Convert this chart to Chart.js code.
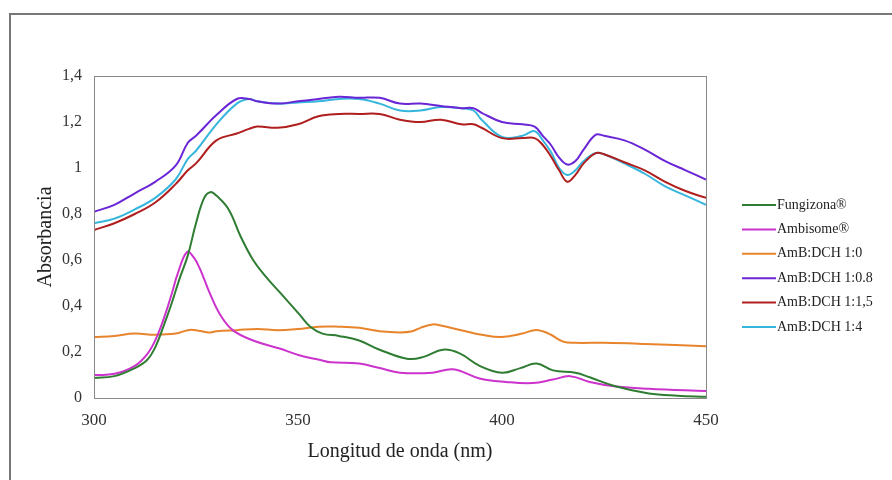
<!DOCTYPE html>
<html>
<head>
<meta charset="utf-8">
<script src="https://cdn.jsdelivr.net/npm/chart.js@4.4.1/dist/chart.umd.min.js"></script>
<style>
  html, body { margin: 0; padding: 0; background: #fff; }
  #wrap { position: relative; width: 892px; height: 480px; overflow: hidden; }
  #frame { position: absolute; left: 9px; top: 13px; width: 900px; height: 500px;
           border-left: 2px solid #777; border-top: 2px solid #777; }
  canvas { position: absolute; left: 0; top: 0; }
</style>
</head>
<body>
<div id="wrap">
  <div id="frame"></div>
  <canvas id="myChart" width="892" height="480"></canvas>
</div>
<script>
/****data*****/
const seriesNames = ['Fungizona®', 'Ambisome®', 'AmB:DCH 1:0', 'AmB:DCH 1:0.8', 'AmB:DCH 1:1,5', 'AmB:DCH 1:4'];

const fungizonaX = [300,305,310,313,315,317,319,321,323,325,327,328.5,330,333,336,339,342,345.5,350.5,353,356,360,365,370,377,381,385.5,389.5,394.5,400,404.5,408.5,412.5,418,421.5,428,436,443,450];
const fungizonaY = [0.087,0.095,0.13,0.165,0.22,0.31,0.41,0.52,0.62,0.76,0.87,0.895,0.88,0.82,0.70,0.60,0.53,0.46,0.36,0.31,0.28,0.27,0.25,0.21,0.17,0.18,0.21,0.195,0.14,0.11,0.13,0.15,0.12,0.11,0.09,0.05,0.02,0.01,0.005];

const ambisomeX = [300,305,310,313,315,317,319,320.5,322.8,324.5,326,328.4,331,334,339,345.5,350.5,355.5,358,365,370,375,383,388,394.5,401,407.5,412.5,416.7,421.5,428,436,450];
const ambisomeY = [0.10,0.105,0.14,0.19,0.25,0.34,0.45,0.54,0.635,0.61,0.56,0.455,0.36,0.295,0.25,0.215,0.185,0.165,0.155,0.15,0.13,0.11,0.11,0.125,0.085,0.07,0.065,0.08,0.095,0.07,0.05,0.04,0.03];

const dch10X = [300,305,310,315,320,323,325,328,330,335,340,345,350,355,360,365,370,375,378,380,383,385,390,395,400,405,408,410,412,415,418,425,435,450];
const dch10Y = [0.265,0.27,0.28,0.275,0.28,0.295,0.295,0.285,0.29,0.295,0.30,0.295,0.30,0.31,0.31,0.305,0.29,0.285,0.29,0.305,0.32,0.315,0.295,0.275,0.265,0.28,0.295,0.29,0.275,0.245,0.24,0.24,0.235,0.225];

const dchX = [300,305,310,315,320,323,325,330,335,338,340,345,350,355,360,365,370,375,380,385,390,393,395,400,405,408,410,412,414,416,418,420,423,425,430,435,440,445,450];
const dch108Y = [0.81,0.84,0.89,0.94,1.01,1.11,1.14,1.23,1.30,1.30,1.29,1.28,1.29,1.30,1.31,1.305,1.305,1.28,1.28,1.27,1.26,1.26,1.24,1.20,1.19,1.18,1.14,1.10,1.045,1.015,1.03,1.08,1.145,1.14,1.12,1.08,1.03,0.99,0.95];
const dch115Y = [0.73,0.76,0.80,0.85,0.93,0.99,1.02,1.12,1.15,1.17,1.18,1.175,1.19,1.225,1.235,1.235,1.235,1.21,1.20,1.21,1.19,1.19,1.175,1.13,1.13,1.13,1.10,1.05,0.99,0.94,0.97,1.02,1.065,1.06,1.025,0.99,0.94,0.90,0.87];
const dch14Y = [0.76,0.78,0.82,0.87,0.95,1.04,1.075,1.19,1.28,1.30,1.29,1.28,1.285,1.29,1.30,1.30,1.28,1.25,1.25,1.265,1.26,1.25,1.21,1.135,1.14,1.16,1.12,1.07,1.00,0.97,0.99,1.03,1.065,1.06,1.02,0.975,0.92,0.88,0.84];

const xTicks = [300, 350, 400, 450];
const yTicks = [0, 0.2, 0.4, 0.6, 0.8, 1, 1.2, 1.4];
/*****************/

const colors = ['#2e7d32', '#cc33cc', '#e8842c', '#6a26d6', '#b01e1e', '#36b6dc'];
const pairs = [
  [fungizonaX, fungizonaY],
  [ambisomeX, ambisomeY],
  [dch10X, dch10Y],
  [dchX, dch108Y],
  [dchX, dch115Y],
  [dchX, dch14Y]
];

const serif = "'Liberation Serif', 'DejaVu Serif', serif";

const data = {
  datasets: pairs.map((p, i) => ({
    label: seriesNames[i],
    data: p[0].map((x, j) => ({x: x, y: p[1][j]})),
    borderColor: colors[i],
    backgroundColor: colors[i],
    borderWidth: 2,
    pointRadius: 0,
    tension: 0.4,
    fill: false
  }))
};

// plot frame + legend on the right
const framePlugin = {
  id: 'framePlugin',
  afterDatasetsDraw(chart) {
    const {ctx, chartArea: a} = chart;
    ctx.save();
    ctx.strokeStyle = '#888';
    ctx.lineWidth = 1;
    ctx.strokeRect(a.left + 0.5, a.top + 0.5, a.right - a.left, a.bottom - a.top);
    ctx.font = '14px ' + serif;
    ctx.textBaseline = 'middle';
    chart.data.datasets.forEach((ds, i) => {
      const y = 205 + i * 24.4;
      ctx.strokeStyle = ds.borderColor;
      ctx.lineWidth = 2;
      ctx.beginPath();
      ctx.moveTo(742, y);
      ctx.lineTo(776, y);
      ctx.stroke();
      ctx.fillStyle = '#222';
      ctx.fillText(ds.label, 777, y);
    });
    ctx.restore();
  }
};

const config = {
  type: 'line',
  data: data,
  plugins: [framePlugin],
  options: {
    responsive: false,
    animation: false,
    layout: { padding: { left: 34, top: 76, right: 186, bottom: 16 } },
    plugins: {
      legend: { display: false },
      tooltip: { enabled: false }
    },
    scales: {
      x: {
        type: 'linear',
        min: 300,
        max: 450,
        afterFit: s => { s.height = 480 - 398 - 16; },
        afterBuildTicks: s => { s.ticks = xTicks.map(v => ({value: v})); },
        grid: { display: false, drawTicks: false },
        border: { display: false },
        ticks: { padding: 12, color: '#333', font: { family: serif, size: 17 } },
        title: { display: true, text: 'Longitud de onda (nm)', color: '#222',
                 font: { family: serif, size: 20 }, padding: { top: 2, bottom: 0 } }
      },
      y: {
        min: 0,
        max: 1.4,
        afterFit: s => { s.width = 94 - 34; },
        afterBuildTicks: s => { s.ticks = yTicks.map(v => ({value: v})); },
        grid: { display: false, drawTicks: false },
        border: { display: false },
        ticks: {
          padding: 12, color: '#333', font: { family: serif, size: 16 },
          callback: v => String(Math.round(v * 10) / 10).replace('.', ',')
        },
        title: { display: true, text: 'Absorbancia', color: '#222',
                 font: { family: serif, size: 20 }, padding: { top: 0, bottom: 4 } }
      }
    }
  }
};

var myChart = new Chart(document.getElementById('myChart'), config);
</script>
</body>
</html>
